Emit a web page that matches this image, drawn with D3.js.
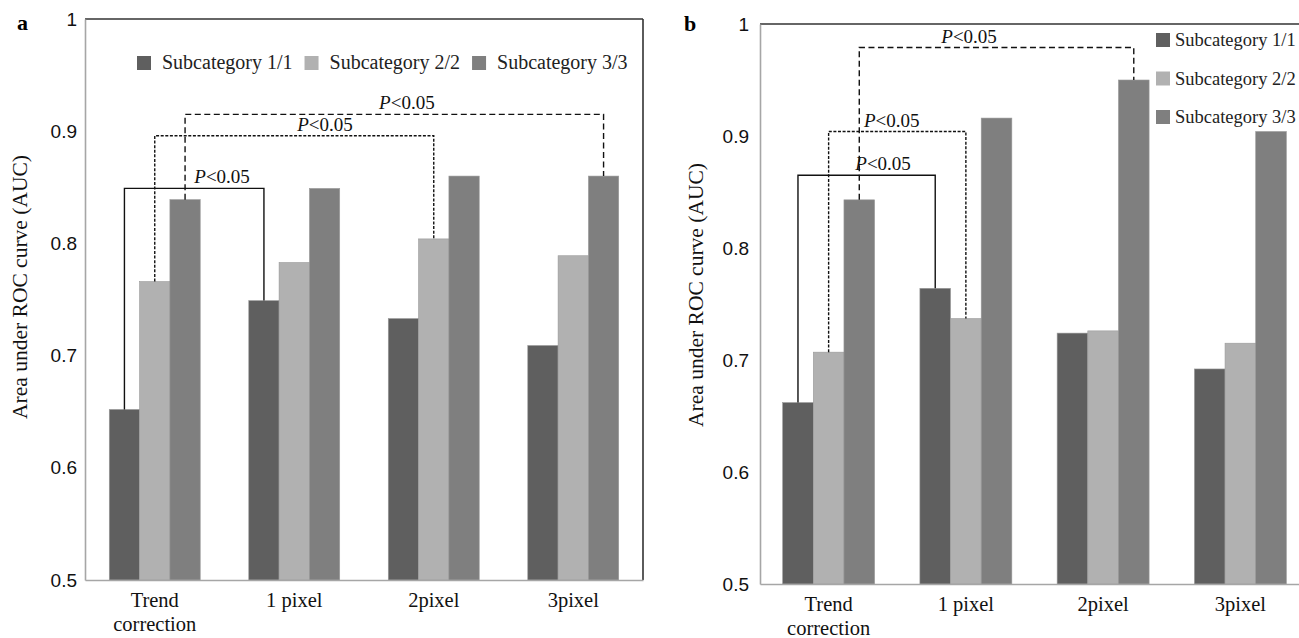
<!DOCTYPE html>
<html>
<head>
<meta charset="utf-8">
<script src="https://cdn.jsdelivr.net/npm/d3@7"></script>
<style>
  body { margin: 0; background: #fff; overflow: hidden; }
  svg { display: block; }
</style>
</head>
<body>
<svg id="canvas" width="1299" height="638"></svg>
<script>
const categories = ["Trend correction", "1 pixel", "2pixel", "3pixel"];
const subcategories = ["Subcategory 1/1", "Subcategory 2/2", "Subcategory 3/3"];
const yTicks = [0.5, 0.6, 0.7, 0.8, 0.9, 1];

// panel a, one array per subcategory
const aucA1 = [0.652, 0.749, 0.733, 0.709];
const aucA2 = [0.766, 0.783, 0.804, 0.789];
const aucA3 = [0.839, 0.849, 0.860, 0.860];

// panel b
const aucB1 = [0.662, 0.764, 0.724, 0.692];
const aucB2 = [0.707, 0.737, 0.726, 0.715];
const aucB3 = [0.843, 0.916, 0.950, 0.904];

// significance brackets: from/to = [category index, subcategory index], level in AUC
const bracketsA = [
  { from: [0, 0], to: [1, 0], level: 0.849, kind: "solid" },
  { from: [0, 1], to: [2, 1], level: 0.896, kind: "dotted" },
  { from: [0, 2], to: [3, 2], level: 0.915, kind: "dashed" }
];
const bracketsB = [
  { from: [0, 0], to: [1, 0], level: 0.865, kind: "solid" },
  { from: [0, 1], to: [1, 1], level: 0.904, kind: "dotted" },
  { from: [0, 2], to: [2, 2], level: 0.979, kind: "dashed" }
];
const pText = "<0.05";

const colors = ["#5f5f5f", "#b1b1b1", "#7f7f7f"];
const dashes = { solid: null, dotted: "3,1.6", dashed: "6,3.5" };
const serif = "'Liberation Serif', 'Times New Roman', serif";
const sans = "'Liberation Sans', Arial, sans-serif";

const canvas = d3.select("#canvas");

let drawPanel = (p) => {
  const g = canvas.append("g");
  const series = [p.s1, p.s2, p.s3];

  const x0 = d3.scaleBand().
  domain(categories).
  range([p.left, p.right]).
  paddingInner(p.pad).
  paddingOuter(p.pad / 2);

  const x1 = d3.scaleBand().
  domain(subcategories).
  range([0, x0.bandwidth()]);

  const y = d3.scaleLinear().
  domain([0.5, 1]).
  range([p.bottom, p.top]);

  // bars
  categories.forEach((cat, ci) => {
    g.selectAll(null).
    data(series.map((s, si) => ({ sub: subcategories[si], v: s[ci], si }))).
    enter().
    append("rect").
    attr("x", d => x0(cat) + x1(d.sub)).
    attr("y", d => y(d.v)).
    attr("width", x1.bandwidth()).
    attr("height", d => y(0.5) - y(d.v)).
    attr("fill", d => colors[d.si]).
    attr("stroke", "#9a9a9a").
    attr("stroke-width", 0.6);
  });

  // frame: top and right dark, left and bottom grey
  g.append("line").attr("x1", p.left).attr("x2", p.right).attr("y1", p.top).attr("y2", p.top).
  attr("stroke", "#333").attr("stroke-width", 1.6);
  g.append("line").attr("x1", p.right).attr("x2", p.right).attr("y1", p.top).attr("y2", p.bottom).
  attr("stroke", "#333").attr("stroke-width", 1.6);

  const yAxis = d3.axisLeft(y).
  tickValues(yTicks).
  tickFormat(d => d === 1 ? "1" : d3.format(".1f")(d)).
  tickSize(0).
  tickPadding(p.tickGap);

  const ya = g.append("g").
  attr("transform", `translate(${p.left},0)`).
  call(yAxis);
  ya.select(".domain").attr("stroke", "#a6a6a6").attr("stroke-width", 1.6);
  ya.selectAll("text").attr("font-family", sans).attr("font-size", 19).attr("fill", "#111");

  const xAxis = d3.axisBottom(x0).tickSize(0).tickFormat("");
  const xa = g.append("g").
  attr("transform", `translate(0,${p.bottom})`).
  call(xAxis);
  xa.select(".domain").attr("stroke", "#a6a6a6").attr("stroke-width", 1.6);

  // category labels, "Trend correction" on two lines
  categories.forEach(cat => {
    const words = cat === "Trend correction" ? ["Trend", "correction"] : [cat];
    words.forEach((w, i) => {
      g.append("text").
      attr("x", x0(cat) + x0.bandwidth() / 2).
      attr("y", p.bottom + p.labelDy + i * 24).
      attr("text-anchor", "middle").
      attr("font-family", serif).
      attr("font-size", 20.5).
      attr("fill", "#111").
      text(w);
    });
  });

  // y title
  g.append("text").
  attr("transform", `translate(${p.titleX},${p.titleY}) rotate(-90)`).
  attr("text-anchor", "middle").
  attr("font-family", serif).
  attr("font-size", 21.5).
  attr("fill", "#111").
  text("Area under ROC curve (AUC)");

  // panel letter
  g.append("text").
  attr("x", p.letterX).
  attr("y", p.letterY).
  attr("font-family", serif).
  attr("font-weight", "bold").
  attr("font-size", 22).
  text(p.letter);

  // significance brackets
  const barCenter = ([ci, si]) => x0(categories[ci]) + x1(subcategories[si]) + x1.bandwidth() / 2;
  const barTop = ([ci, si]) => y(series[si][ci]);

  p.brackets.forEach((b, i) => {
    const xa1 = barCenter(b.from);
    const xb1 = barCenter(b.to);
    const yl = y(b.level);
    g.append("path").
    attr("d", `M${xa1},${barTop(b.from)}V${yl}H${xb1}V${barTop(b.to)}`).
    attr("fill", "none").
    attr("stroke", "#111").
    attr("stroke-width", 1.4).
    attr("stroke-dasharray", dashes[b.kind]);

    const t = g.append("text").
    attr("x", xa1 + (xb1 - xa1) * p.labelAt[i]).
    attr("y", yl - 5).
    attr("text-anchor", "middle").
    attr("font-family", serif).
    attr("font-size", 19).
    attr("fill", "#111");
    t.append("tspan").attr("font-style", "italic").text("P");
    t.append("tspan").text(pText);
  });

  // legend
  const lg = g.append("g");
  let cx = p.legendX;
  subcategories.forEach((s, i) => {
    const ly = p.legendY + (p.legendRow ? 0 : i * p.legendStep);
    lg.append("rect").
    attr("x", cx).
    attr("y", ly - 7).
    attr("width", 14).
    attr("height", 14).
    attr("fill", colors[i]);
    const t = lg.append("text").
    attr("x", cx + p.legendGap).
    attr("y", ly + 6).
    attr("font-family", serif).
    attr("font-size", p.legendSize).
    attr("fill", "#222").
    text(s);
    if (p.legendRow) cx += p.legendGap + t.node().getComputedTextLength() + 12;
  });
};

drawPanel({
  letter: "a", letterX: 17, letterY: 30,
  left: 85, right: 643, top: 19, bottom: 580, pad: 0.348,
  s1: aucA1, s2: aucA2, s3: aucA3,
  brackets: bracketsA, labelAt: [0.70, 0.61, 0.53],
  tickGap: 8, labelDy: 27, titleX: 27, titleY: 287,
  legendX: 137, legendY: 63, legendRow: true, legendGap: 25, legendSize: 20
});

drawPanel({
  letter: "b", letterX: 684, letterY: 31,
  left: 760, right: 1309, top: 24, bottom: 584, pad: 0.33,
  s1: aucB1, s2: aucB2, s3: aucB3,
  brackets: bracketsB, labelAt: [0.62, 0.46, 0.40],
  tickGap: 11, labelDy: 27, titleX: 703, titleY: 295,
  legendX: 1156, legendY: 40, legendRow: false, legendStep: 38.5, legendGap: 19, legendSize: 18.5
});
</script>
</body>
</html>
